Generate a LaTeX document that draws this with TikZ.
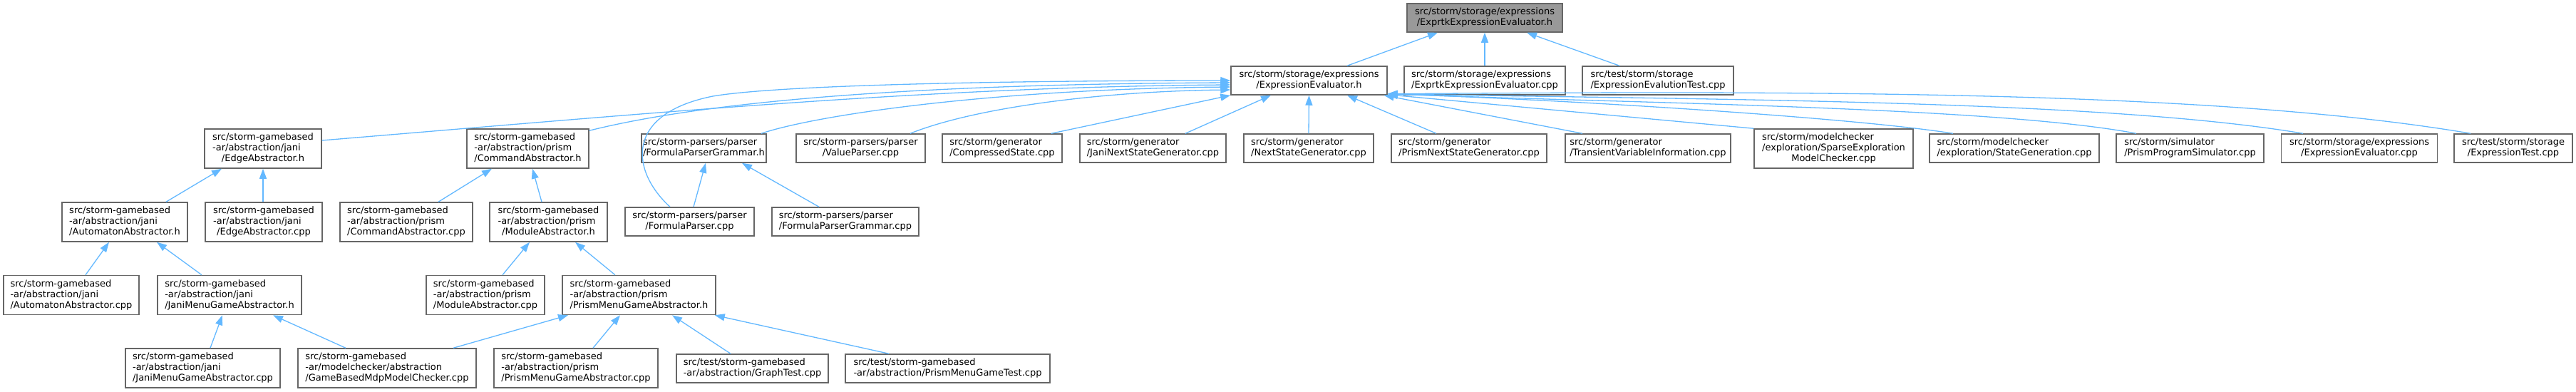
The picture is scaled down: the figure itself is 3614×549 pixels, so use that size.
\documentclass[tikz,border=0pt]{standalone}
\usepackage{fontspec}
\setmainfont{DejaVu Sans}
\usetikzlibrary{arrows.meta}
\definecolor{edgeblue}{HTML}{63B8FF}
\definecolor{boxgray}{HTML}{666666}
\definecolor{rootfill}{HTML}{999999}
\newcommand\lbl[2]{\begin{tabular}{@{}l@{}}#1\\\multicolumn{1}{@{}c@{}}{#2}\end{tabular}}
\tikzset{
  box/.style={draw=boxgray, fill=white, line width=1.5pt, inner sep=0pt,
    minimum height=40pt, font=\fontsize{13}{15}\selectfont},
  tall/.style={minimum height=55pt},
  bw/.style={minimum width=#1pt},
  root/.style={fill=rootfill},
  dep/.style={draw=edgeblue, line width=1.3pt, -{Triangle[length=14pt,width=10pt,fill=edgeblue]}}
}
\begin{document}
\begin{tikzpicture}[x=1pt,y=-1pt]
\useasboundingbox (0,0) rectangle (3614,549);
% row 0
\node[box,root,bw=218] (T) at (2083,25) {\lbl{src/storm/storage/expressions}{/ExprtkExpressionEvaluator.h}};
% row 1
\node[box,bw=219] (EE) at (1836.5,113) {\lbl{src/storm/storage/expressions}{/ExpressionEvaluator.h}};
\node[box,bw=226] (EEcpp) at (2083,113) {\lbl{src/storm/storage/expressions}{/ExprtkExpressionEvaluator.cpp}};
\node[box,bw=212] (EETest) at (2326,113) {\lbl{src/test/storm/storage}{/ExpressionEvalutionTest.cpp}};
% row 2
\node[box,tall,bw=164] (EdgeH) at (369,208.5) {\lbl{src/storm-gamebased\\-ar/abstraction/jani}{/EdgeAbstractor.h}};
\node[box,tall,bw=171] (CmdH) at (740.5,208.5) {\lbl{src/storm-gamebased\\-ar/abstraction/prism}{/CommandAbstractor.h}};
\node[box,bw=175] (FPGh) at (987.5,208) {\lbl{src/storm-parsers/parser}{/FormulaParserGrammar.h}};
\node[box,bw=181] (VP) at (1207.5,208) {\lbl{src/storm-parsers/parser}{/ValueParser.cpp}};
\node[box,bw=168] (CS) at (1406,208) {\lbl{src/storm/generator}{/CompressedState.cpp}};
\node[box,bw=205] (JNSG) at (1617.5,208) {\lbl{src/storm/generator}{/JaniNextStateGenerator.cpp}};
\node[box,bw=182] (NSG) at (1836,208) {\lbl{src/storm/generator}{/NextStateGenerator.cpp}};
\node[box,bw=218] (PNSG) at (2061,208) {\lbl{src/storm/generator}{/PrismNextStateGenerator.cpp}};
\node[box,bw=232] (TVI) at (2312,208) {\lbl{src/storm/generator}{/TransientVariableInformation.cpp}};
\node[box,tall,bw=223] (SPE) at (2572.5,208.5) {\lbl{src/storm/modelchecker\\/exploration/SparseExploration}{ModelChecker.cpp}};
\node[box,bw=238] (SG) at (2826,208) {\lbl{src/storm/modelchecker}{/exploration/StateGeneration.cpp}};
\node[box,bw=207] (SIM) at (3072.5,208) {\lbl{src/storm/simulator}{/PrismProgramSimulator.cpp}};
\node[box,bw=219] (EEC2) at (3310,208) {\lbl{src/storm/storage/expressions}{/ExpressionEvaluator.cpp}};
\node[box,bw=166] (ET) at (3526,208) {\lbl{src/test/storm/storage}{/ExpressionTest.cpp}};
% row 3
\node[box,tall,bw=176] (AutH) at (175,311.5) {\lbl{src/storm-gamebased\\-ar/abstraction/jani}{/AutomatonAbstractor.h}};
\node[box,tall,bw=164] (EdgeC) at (370,311.5) {\lbl{src/storm-gamebased\\-ar/abstraction/jani}{/EdgeAbstractor.cpp}};
\node[box,tall,bw=186] (CmdC) at (570,311.5) {\lbl{src/storm-gamebased\\-ar/abstraction/prism}{/CommandAbstractor.cpp}};
\node[box,tall,bw=165] (ModH) at (769.5,311.5) {\lbl{src/storm-gamebased\\-ar/abstraction/prism}{/ModuleAbstractor.h}};
\node[box,bw=181] (FPC) at (967.5,311) {\lbl{src/storm-parsers/parser}{/FormulaParser.cpp}};
\node[box,bw=206] (FPGC) at (1186,311) {\lbl{src/storm-parsers/parser}{/FormulaParserGrammar.cpp}};
% row 4
\node[box,tall,bw=190] (AutC) at (100,414) {\lbl{src/storm-gamebased\\-ar/abstraction/jani}{/AutomatonAbstractor.cpp}};
\node[box,tall,bw=202] (JMGAh) at (322,414) {\lbl{src/storm-gamebased\\-ar/abstraction/jani}{/JaniMenuGameAbstractor.h}};
\node[box,tall,bw=166] (ModC) at (681,414) {\lbl{src/storm-gamebased\\-ar/abstraction/prism}{/ModuleAbstractor.cpp}};
\node[box,tall,bw=215] (PMGAh) at (896.5,414) {\lbl{src/storm-gamebased\\-ar/abstraction/prism}{/PrismMenuGameAbstractor.h}};
% row 5
\node[box,tall,bw=217] (JMGAc) at (284.5,516.5) {\lbl{src/storm-gamebased\\-ar/abstraction/jani}{/JaniMenuGameAbstractor.cpp}};
\node[box,tall,bw=250] (GBMC) at (543,516.5) {\lbl{src/storm-gamebased\\-ar/modelchecker/abstraction}{/GameBasedMdpModelChecker.cpp}};
\node[box,tall,bw=230] (PMGAc) at (808,516.5) {\lbl{src/storm-gamebased\\-ar/abstraction/prism}{/PrismMenuGameAbstractor.cpp}};
\node[box,bw=213] (GT) at (1055.5,517) {\lbl{src/test/storm-gamebased}{-ar/abstraction/GraphTest.cpp}};
\node[box,bw=287] (PMGT) at (1329.5,517) {\lbl{src/test/storm-gamebased}{-ar/abstraction/PrismMenuGameTest.cpp}};
% edges to root
\draw[dep] ([xshift=53.5pt]EE.north) -- ([xshift=-66pt]T.south);
\draw[dep] (EEcpp.north) -- (T.south);
\draw[dep] ([xshift=-54pt]EETest.north) -- ([xshift=59pt]T.south);
% edges into EE from the left
\draw[dep] ([yshift=11.5pt]EdgeH.east) .. controls (900,160) and (1300,122) .. ([yshift=-6pt]EE.west);
\draw[dep] ([yshift=-3pt]CmdH.north east) .. controls (1000,140) and (1300,118) .. ([yshift=-3pt]EE.west);
\draw[dep] ([xshift=-27.5pt]FPC.north) .. controls (885,240) and (875,160) .. (1000,135) .. controls (1100,118) and (1450,113) .. (EE.west);
\draw[dep] ([xshift=80.5pt]FPGh.north) .. controls (1150,160) and (1400,125) .. ([yshift=-9pt]EE.west);
\draw[dep] ([xshift=69.5pt]VP.north) .. controls (1370,150) and (1550,128) .. ([yshift=-13pt]EE.west);
\draw[dep] ([xshift=69pt]CS.north) -- (EE.south west);
\draw[dep] ([xshift=45.5pt]JNSG.north) -- ([xshift=-53.5pt]EE.south);
\draw[dep] (NSG.north) -- (EE.south);
\draw[dep] ([xshift=-46pt]PNSG.north) -- ([xshift=53.5pt]EE.south);
% edges into EE from the right
\draw[dep] ([xshift=-92pt]TVI.north) -- ([xshift=-5pt]EE.south east);
\draw[dep] (SPE.north west) -- ([yshift=1pt]EE.south east);
\draw[dep] ([xshift=-86pt]SG.north) .. controls (2600,165) and (2200,140) .. ([yshift=2pt]EE.south east);
\draw[dep] ([xshift=-75.5pt]SIM.north) .. controls (2800,150) and (2300,145) .. ([yshift=2pt]EE.south east);
\draw[dep] ([xshift=-79pt]EEC2.north) .. controls (2950,140) and (2400,140) .. ([yshift=2pt]EE.south east);
\draw[dep] ([xshift=-60pt]ET.north) .. controls (3100,125) and (2500,128) .. ([yshift=2pt]EE.south east);
% lower edges
\draw[dep] ([xshift=58pt]AutH.north) -- ([xshift=-58pt]EdgeH.south);
\draw[dep] ([xshift=-1pt]EdgeC.north) -- (EdgeH.south);
\draw[dep] ([xshift=45pt]CmdC.north) -- ([xshift=-50.5pt]CmdH.south);
\draw[dep] ([xshift=-9.5pt]ModH.north) -- ([xshift=6.5pt]CmdH.south);
\draw[dep] ([xshift=5.5pt]FPC.north) -- ([xshift=2.5pt]FPGh.south);
\draw[dep] ([xshift=-37pt]FPGC.north) -- ([xshift=53.5pt]FPGh.south);
\draw[dep] ([xshift=20pt]AutC.north) -- ([xshift=-22pt]AutH.south);
\draw[dep] ([xshift=-39pt]JMGAh.north) -- ([xshift=45pt]AutH.south);
\draw[dep] ([xshift=24pt]ModC.north) -- ([xshift=-26.5pt]ModH.south);
\draw[dep] ([xshift=-33.5pt]PMGAh.north) -- ([xshift=37.5pt]ModH.south);
\draw[dep] ([xshift=10.5pt]JMGAc.north) -- ([xshift=-10pt]JMGAh.south);
\draw[dep] ([xshift=-58pt]GBMC.north) -- ([xshift=61pt]JMGAh.south);
\draw[dep] ([xshift=93pt]GBMC.north) -- ([xshift=-99.5pt]PMGAh.south);
\draw[dep] ([xshift=24pt]PMGAc.north) -- ([xshift=-26.5pt]PMGAh.south);
\draw[dep] ([xshift=-30.5pt]GT.north) -- ([xshift=46.5pt]PMGAh.south);
\draw[dep] ([xshift=-82.5pt]PMGT.north) -- ([xshift=-2pt]PMGAh.south east);
\end{tikzpicture}
\end{document}
